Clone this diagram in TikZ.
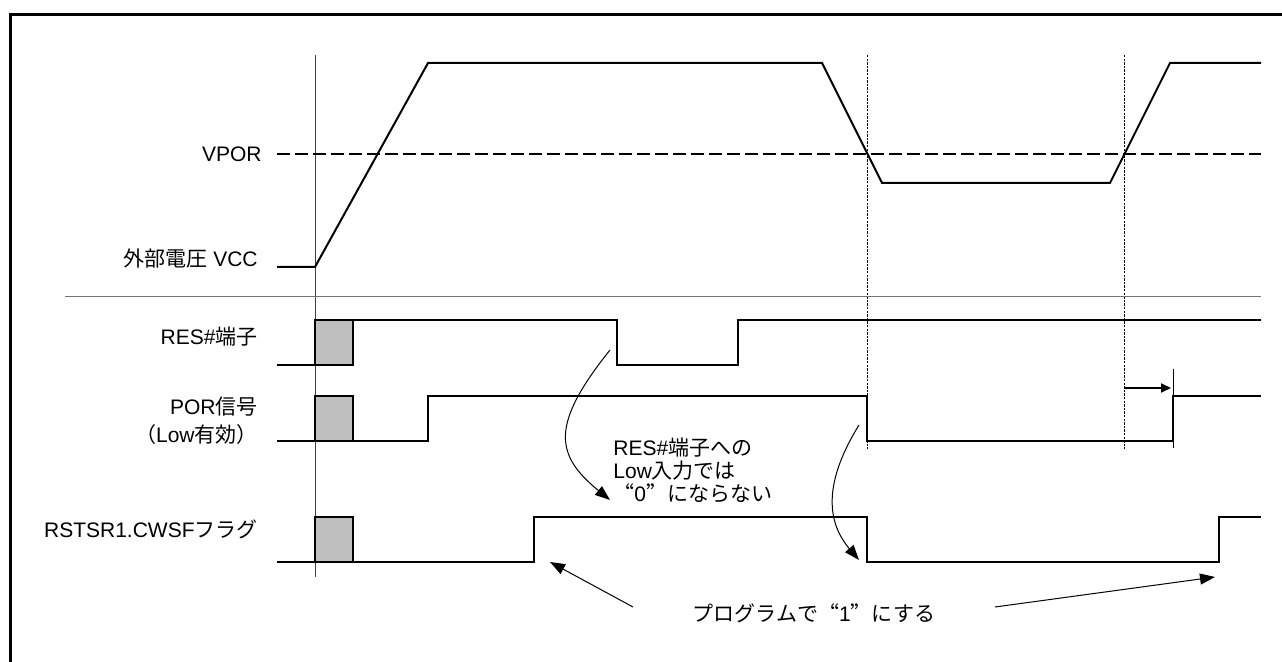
\documentclass[tikz,border=0pt]{standalone}
\usepackage{fontspec}
\setmainfont{Liberation Sans}
\newfontfamily\jp{Noto Sans CJK JP}
\newfontfamily\jpq[CharacterWidth=Full]{Noto Sans CJK JP}
\usetikzlibrary{arrows.meta}
\newcommand\fsz{\fontsize{10.5}{11.5}\selectfont}
\begin{document}
\begin{tikzpicture}[x=0.5pt,y=-0.5pt,
  sig/.style={line width=1pt},
  guide/.style={line width=0.5pt, black!75},
  sep/.style={line width=0.5pt, black!55},
  vdot/.style={line width=0.5pt, dash pattern=on 1.2pt off 0.6pt},
  gbox/.style={draw, line width=1pt, fill=black!25},
  lbl/.style={anchor=base east, inner sep=0pt, font=\fsz},
  txt/.style={anchor=base west, inner sep=0pt, font=\fsz},
  note/.style={-{Triangle[length=7.5pt,width=5.5pt]}, line width=0.5pt},
]
\useasboundingbox (0,0) rectangle (1282,662);
% frame
\draw[line width=1.5pt] (10.5,662) -- (10.5,14.5) -- (1282,14.5);

% guide lines
\draw[guide] (315,55) -- (315,577);
\draw[vdot] (867,55) -- (867,449);
\draw[vdot] (1124,55) -- (1124,449);
\draw[sep] (65,297) -- (1261,297);

% VCC
\draw[line width=1pt, dash pattern=on 6.5pt off 2.5pt] (277,154) -- (1261,154);
\draw[sig] (277,267) -- (315,267) -- (428,63) -- (822,63) -- (882,183) -- (1110,183) -- (1170,63) -- (1261,63);

% RES#
\draw[sig] (277,365) -- (353,365) -- (353,320) -- (617,320) -- (617,365) -- (738,365) -- (738,320) -- (1261,320);
\draw[gbox] (315,320) rectangle (353,365);

% POR
\draw[sig] (277,441) -- (428,441) -- (428,396) -- (867,396) -- (867,441) -- (1173,441) -- (1173,396) -- (1261,396);
\draw[gbox] (315,396) rectangle (353,441);
\draw[line width=0.5pt] (1173,369) -- (1173,448);
\coordinate (dl) at (1124,388);
\coordinate (dr) at (1171,388);
\draw[line width=1pt, -{Triangle[length=5pt,width=4.5pt]}] (dl) -- (dr);

% CWSF
\draw[sig] (277,562) -- (534,562) -- (534,517) -- (867,517) -- (867,562) -- (1219,562) -- (1219,517) -- (1261,517);
\draw[gbox] (315,517) rectangle (353,562);

% labels
\node[lbl] (vpor) at (262,162) {VPOR};
\node[lbl] (vcc) at (258,267) {{\jp 外部電圧} VCC};
\node[lbl] (res) at (258,345) {RES\#{\jp 端子}};
\node[lbl] (por) at (258,415) {POR{\jp 信号}};
\node[lbl] (porl) at (258,443) {{\jp （}Low{\jp 有効）}};
\node[lbl] (cwsf) at (258,538) {RSTSR1.CWSF{\jp フラグ}};

% notes
\node[txt] (note1) at (613,456) {RES\#{\jp 端子への}};
\node[txt] (note2) at (613,479) {Low{\jp 入力では}};
\node[txt] (note3) at (613,502) {{\jpq “}0{\jpq ”}{\jp にならない}};
\node[anchor=base, inner sep=0pt, font=\fsz] (prog) at (814,622)
  {{\jp プログラムで}{\jpq “}1{\jpq ”}{\jp にする}};

\coordinate (a1s) at (610,350);
\coordinate (a1e) at (610,500);
\coordinate (a2s) at (859,425);
\coordinate (a2e) at (859,560);
\coordinate (a3s) at (633,607);
\coordinate (a3e) at (550,562);
\coordinate (a4s) at (995,607);
\coordinate (a4e) at (1215,577);
\draw[note] (a1s) .. controls (550,425) and (555,455) .. (a1e);
\draw[note] (a2s) .. controls (825,480) and (825,520) .. (a2e);
\draw[note] (a3s) -- (a3e);
\draw[note] (a4s) -- (a4e);
\end{tikzpicture}
\end{document}
